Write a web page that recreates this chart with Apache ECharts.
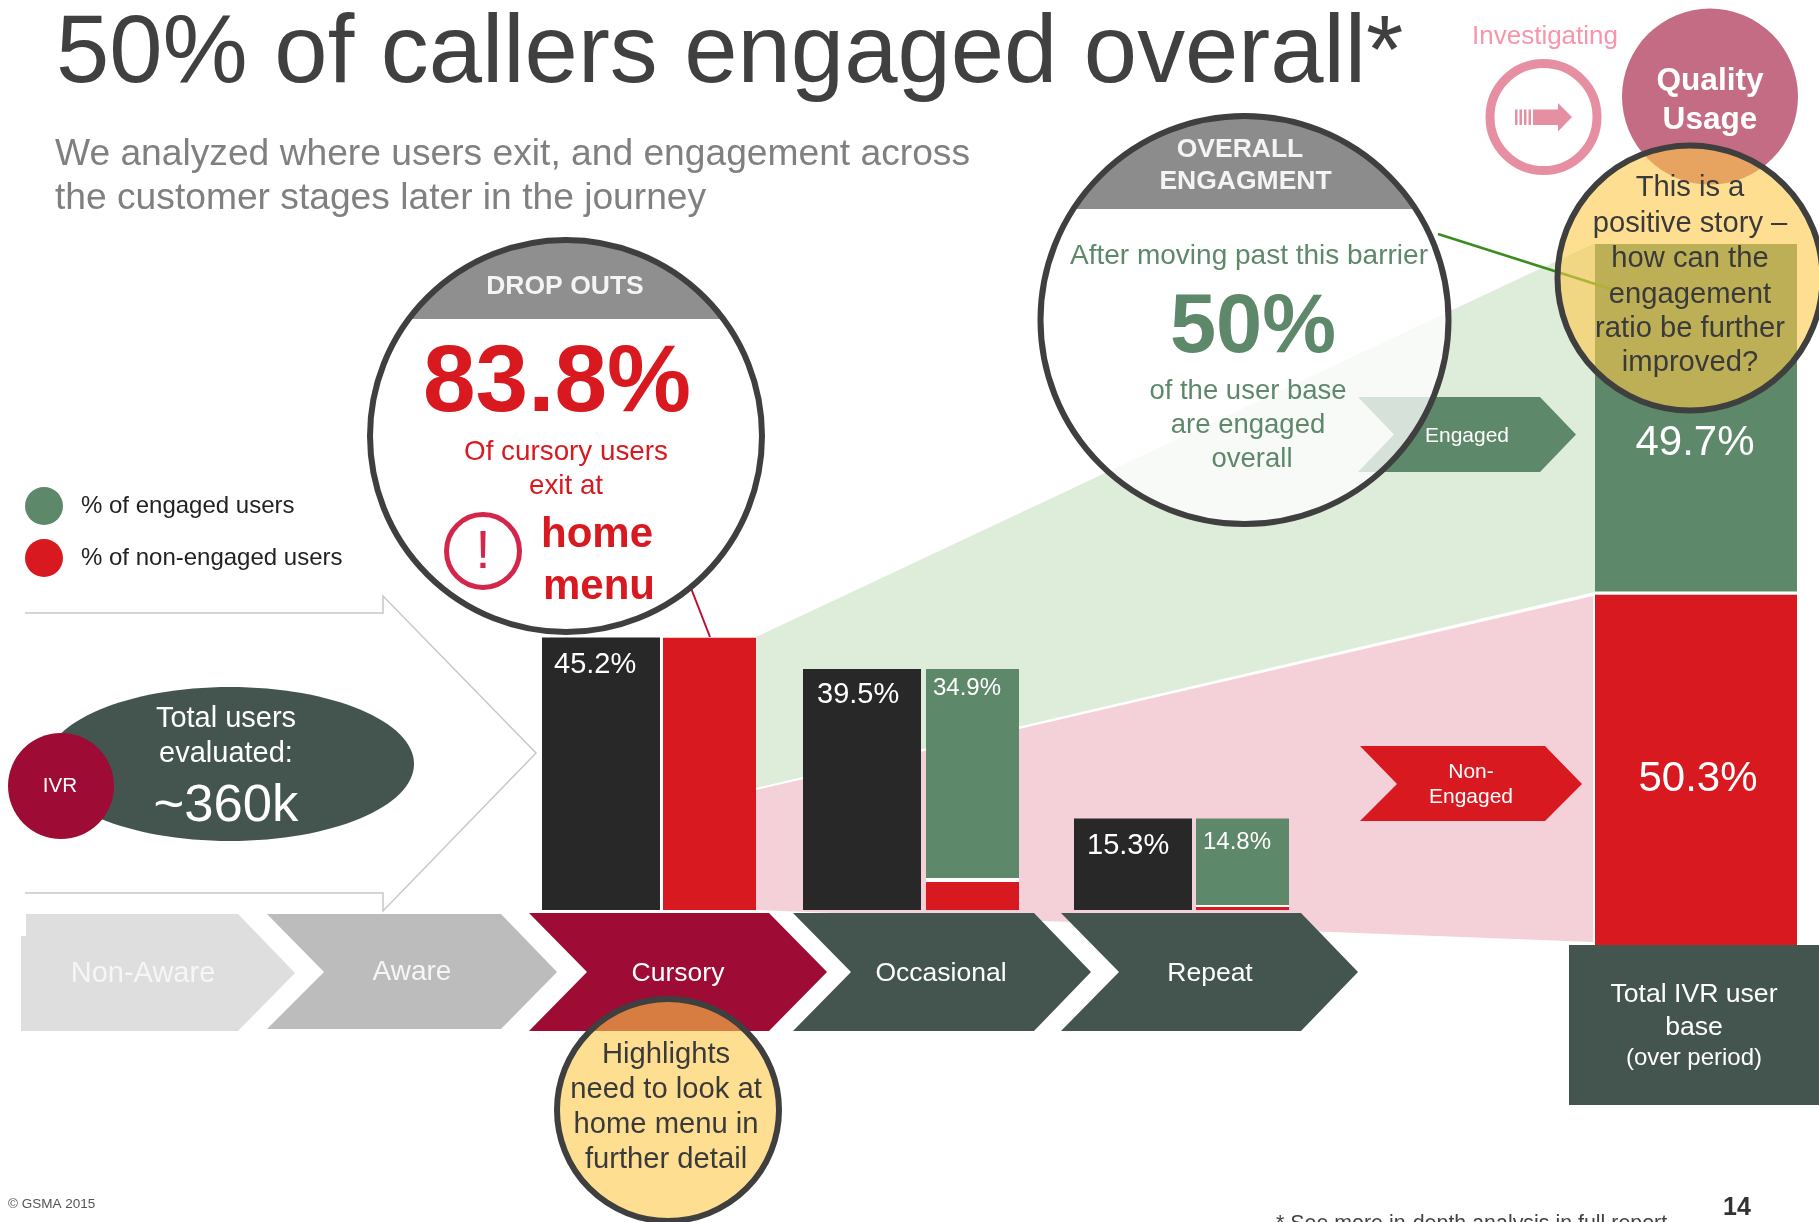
<!DOCTYPE html>
<html><head><meta charset="utf-8"><style>html,body{margin:0;padding:0;background:#fff}#c{width:1819px;height:1222px}</style>
<script src="https://cdn.jsdelivr.net/npm/echarts@6/dist/echarts.min.js"></script></head>
<body><div id="c"></div>
<script>
// ---- data ----
const stages = ['Cursory', 'Occasional', 'Repeat'];
const stageUsers = [45.2, 39.5, 15.3];
const stageEngaged = [0, 34.9, 14.8];
const stageNonEngaged = [45.2, 4.6, 0.5];
const totalCategory = ['Total IVR user base'];
const totalEngaged = [49.7];
const totalNonEngaged = [50.3];
const funnelStages = ['Non-Aware', 'Aware', 'Cursory', 'Occasional', 'Repeat'];
const legendNames = ['% of engaged users', '% of non-engaged users'];

// ---- styling ----
const F = '"Liberation Sans", Arial, sans-serif';
const RED = '#d81920', GREEN = '#5e886a', BLACK = '#282828', DARK = '#44544f', CRIMSON = '#9e0b35';
const YEL = 'rgba(253,201,73,0.6)', INK = '#3f3f3f';
const stageLayout = [
  {left: 542, gap: 3, sep: 4, pxPerPct: 6.03, blackOff: [0, 1], greenOff: [0, 0]},
  {left: 803, gap: 5, sep: 4, pxPerPct: 6.1, blackOff: [2, -1], greenOff: [0, 0]},
  {left: 1074, gap: 4, sep: 2, pxPerPct: 5.98, blackOff: [1, 1], greenOff: [0, 5]}
];
const baseY = 910, yMax = 50, blackW = 118, stackW = 93;

const grids = [], xAxes = [], yAxes = [], series = [];
function addAxes(left, width, top, height, cat, max) {
  grids.push({left, width, top, height, containLabel: false});
  xAxes.push({type: 'category', data: cat, gridIndex: grids.length - 1, show: false});
  yAxes.push({type: 'value', min: 0, max, gridIndex: grids.length - 1, show: false});
  return grids.length - 1;
}
stages.forEach((s, i) => {
  const L = stageLayout[i], h = yMax * L.pxPerPct;
  const g = addAxes(L.left, blackW + L.gap + stackW, baseY - h, h, [s], yMax);
  const stack = 'stage' + i;
  const base = {type: 'bar', xAxisIndex: g, yAxisIndex: g, barGap: (L.gap / blackW * 100) + '%'};
  series.push({...base, name: 'Users at stage', barWidth: blackW, itemStyle: {color: BLACK}, data: [stageUsers[i]],
    label: {show: true, position: 'insideTopLeft', distance: 12, offset: L.blackOff, formatter: '{c}%', color: '#fff', fontSize: 29, fontFamily: F}});
  series.push({...base, name: legendNames[1], stack, stackStrategy: 'all', barWidth: stackW, itemStyle: {color: RED}, data: [stageNonEngaged[i]]});
  series.push({...base, name: 'sep', stack, stackStrategy: 'all', barWidth: stackW, barMinHeight: L.sep, z: 3, itemStyle: {color: '#fff'}, data: [0]});
  series.push({...base, name: legendNames[0], stack, stackStrategy: 'all', barWidth: stackW, itemStyle: {color: GREEN}, data: [stageEngaged[i]],
    label: {show: stageEngaged[i] > 0, position: 'insideTopLeft', distance: 7, offset: L.greenOff, formatter: '{c}%', color: '#fff', fontSize: 24, fontFamily: F}});
});
{
  const px = 7.05, baseT = 949, max = 100, h = max * px;
  const g = addAxes(1595, 202, baseT - h, h, totalCategory, max);
  const base = {type: 'bar', xAxisIndex: g, yAxisIndex: g, barWidth: 202, stack: 'total', stackStrategy: 'all'};
  series.push({...base, name: legendNames[1], itemStyle: {color: RED}, data: totalNonEngaged,
    label: {show: true, position: 'inside', offset: [2, 8], formatter: '{c}%', color: '#fff', fontSize: 42, fontFamily: F}});
  series.push({...base, name: 'sep', barMinHeight: 3, z: 3, itemStyle: {color: '#fff'}, data: [0]});
  series.push({...base, name: legendNames[0], itemStyle: {color: GREEN}, data: totalEngaged,
    label: {show: true, position: 'inside', offset: [-1, 24], formatter: '{c}%', color: '#fff', fontSize: 42, fontFamily: F}});
}

// ---- decoration ----
const els = [];
let zc = 10;
const add = o => { o.z = o.z === undefined ? zc++ : o.z; o.silent = true; els.push(o); };
const poly = (points, fill, z) => add({type: 'polygon', shape: {points}, style: {fill}, z});
const circ = (cx, cy, r, fill, stroke, lw) => add({type: 'circle', shape: {cx, cy, r}, style: {fill: fill || 'transparent', stroke: stroke || null, lineWidth: lw || 0}});
const txt = (text, x, y, size, fill, bold, align) => add({type: 'text', style: {text, x, y: y + size * 0.07, fill, fontSize: size, fontFamily: F, fontWeight: bold ? 'bold' : 'normal', align: align || 'center', verticalAlign: 'middle'}});
const lines = (list, x, ys, size, fill, bold) => list.forEach((l, i) => txt(l, x, ys[i], size, fill, bold));
function segment(cx, cy, r, chordY) {
  const a0 = Math.asin((cy - chordY) / r), pts = [];
  for (let k = 0; k <= 60; k++) {
    const a = Math.PI - a0 - (Math.PI - 2 * a0) * k / 60;
    pts.push([cx + r * Math.cos(a), cy - r * Math.sin(a)]);
  }
  return pts;
}

// funnel bands behind the bars
poly([[756, 637], [1595, 243], [1595, 592], [756, 788]], '#deecda', 0);
poly([[756, 790], [1593, 596], [1593, 942], [756, 910]], '#f4d1d9', 0);

// outlined arrow
add({type: 'polyline', shape: {points: [[25, 613], [383, 613], [383, 596], [536, 753], [383, 911], [383, 893], [25, 893]]}, style: {fill: null, stroke: '#c8c8c8', lineWidth: 1.5}});

// stage chevrons
poly([[26, 914], [238, 914], [295, 973], [238, 1031], [21, 1031], [21, 936], [26, 936]], '#dedede');
poly([[267, 914], [501, 914], [557, 972], [501, 1029], [267, 1029], [324, 972]], '#bcbcbc');
poly([[529, 913], [769, 913], [827, 972], [769, 1031], [529, 1031], [587, 972]], CRIMSON);
poly([[793, 913], [1034, 913], [1091, 972], [1034, 1031], [793, 1031], [851, 972]], DARK);
poly([[1061, 913], [1301, 913], [1358, 972], [1301, 1031], [1061, 1031], [1119, 972]], DARK);
txt(funnelStages[0], 143, 972, 29, '#f6f6f6');
txt(funnelStages[1], 412, 970, 28, '#f6f6f6');
txt(funnelStages[2], 678, 972, 26.5, '#fff');
txt(funnelStages[3], 941, 972, 26.5, '#fff');
txt(funnelStages[4], 1210, 972, 26.5, '#fff');

// total box
add({type: 'rect', shape: {x: 1569, y: 945, width: 250, height: 160}, style: {fill: DARK}});
lines(['Total IVR user', 'base'], 1694, [993, 1026], 26.6, '#fff');
txt('(over period)', 1694, 1057, 24, '#fff');

// titles
txt('50% of callers engaged overall*', 56, 49, 95.8, '#404040', false, 'left');
txt('We analyzed where users exit, and engagement across', 55, 152, 37.2, '#808080', false, 'left');
txt('the customer stages later in the journey', 55, 196, 37.2, '#808080', false, 'left');

// ellipse
add({type: 'ellipse', shape: {cx: 230, cy: 764, rx: 184, ry: 77}, style: {fill: DARK}});
circ(61, 786, 53, CRIMSON);
txt('IVR', 60, 785, 20.6, '#fff');
lines(['Total users', 'evaluated:'], 226, [717, 752], 29, '#fff');
txt('~360k', 226, 803, 52.6, '#fff');

// engaged / non-engaged chevrons
poly([[1358, 397], [1540, 397], [1576, 434.5], [1540, 472], [1358, 472], [1394, 434.5]], GREEN);
txt('Engaged', 1467, 435, 21, '#fff');
poly([[1360, 746], [1545, 746], [1582, 784], [1545, 821], [1360, 821], [1397, 784]], RED);
lines(['Non-', 'Engaged'], 1471, [771, 796], 21, '#fff');

// drop-outs circle
add({type: 'line', shape: {x1: 689, y1: 583, x2: 710, y2: 637}, style: {stroke: '#b8102f', lineWidth: 2}});
circ(566, 436, 196, '#fff');
poly(segment(566, 436, 196, 319), '#8f8f8f');
circ(566, 436, 196, null, INK, 6);
txt('DROP OUTS', 565, 285, 26.5, '#f4f4f4', true);
txt('83.8%', 557, 378, 94.5, RED, true);
lines(['Of cursory users', 'exit at'], 566, [450, 484], 27.8, RED);
circ(483, 551, 36.5, null, '#d4264a', 5);
txt('!', 483, 549, 54, '#d4264a');
txt('home', 597, 532, 42, RED, true);
txt('menu', 599, 584, 42, RED, true);

// overall circle
add({type: 'line', shape: {x1: 1438, y1: 234, x2: 1611, y2: 289}, style: {stroke: '#3b8c1e', lineWidth: 2.5}});
circ(1244.5, 320, 204, 'rgba(255,255,255,0.75)');
poly(segment(1244.5, 320, 204, 209), '#8c8c8c');
circ(1244.5, 320, 204, null, INK, 6);
txt('OVERALL', 1240, 148, 26.5, '#f4f4f4', true);
txt('ENGAGMENT', 1245.5, 180, 26.5, '#f4f4f4', true);
txt('After moving past this barrier', 1249, 254, 28, GREEN);
txt('50%', 1253, 323, 83, GREEN, true);
txt('of the user base', 1248, 389, 27.5, GREEN);
txt('are engaged', 1248, 423, 27.5, GREEN);
txt('overall', 1252, 457, 27.5, GREEN);

// investigating
txt('Investigating', 1545, 35, 26, '#f895ab');
circ(1543.5, 117, 53.5, null, '#e78fa2', 9);
[1515, 1519.5, 1524, 1528.5].forEach(x => add({type: 'rect', shape: {x, y: 109.5, width: 2.5, height: 15.5}, style: {fill: '#e78fa2'}}));
poly([[1533, 109.5], [1558, 109.5], [1558, 103], [1572, 117], [1558, 131.5], [1558, 125], [1533, 125]], '#e78fa2');
circ(1710, 96.6, 88, '#c56c85');
txt('Quality', 1710, 79.5, 31.6, '#fff', true);
txt('Usage', 1710, 118, 31.6, '#fff', true);

// yellow notes
circ(1690, 278, 132.5, YEL, INK, 6);
lines(['This is a', 'positive story –', 'how can the', 'engagement', 'ratio be further', 'improved?'], 1690, [186, 222, 257, 293, 327, 361], 29.2, '#3a3a3a');
circ(668, 1110, 111, YEL, INK, 6);
lines(['Highlights', 'need to look at', 'home menu in', 'further detail'], 666, [1053, 1087.5, 1123, 1158], 29.2, '#3a3a3a');

// footer
txt('© GSMA 2015', 8, 1203, 13.5, '#555', false, 'left');
txt('14', 1737, 1206, 25, '#333', true);
txt('* See more in-depth analysis in full report', 1276, 1223, 21.4, '#444', false, 'left');

const chart = echarts.init(document.getElementById('c'));
chart.setOption({
  animation: false,
  backgroundColor: '#fff',
  legend: {data: legendNames, orient: 'vertical', left: 25, top: 487, itemWidth: 38, itemHeight: 38, itemGap: 14, icon: 'circle', padding: 0, selectedMode: false,
    textStyle: {fontSize: 24, fontFamily: F, color: '#222', padding: [4, 0, 0, 13]}},
  grid: grids, xAxis: xAxes, yAxis: yAxes, series,
  graphic: {elements: els}
});
</script></body></html>
